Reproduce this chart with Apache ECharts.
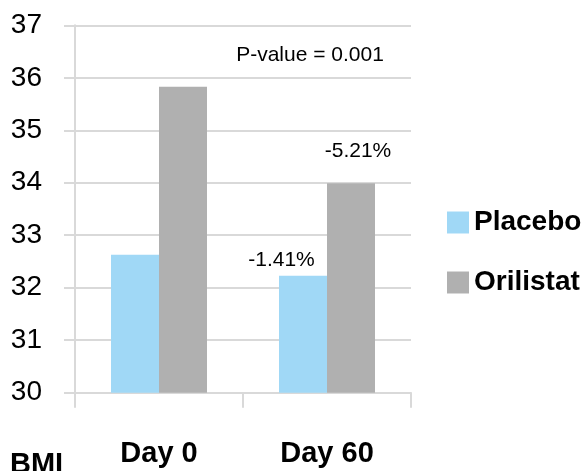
<!DOCTYPE html>
<html>
<head>
<meta charset="utf-8">
<script src="https://cdn.jsdelivr.net/npm/echarts@6/dist/echarts.min.js"></script>
<style>
  html, body { margin: 0; padding: 0; background: #fff; }
  #myChart { width: 585px; height: 471px; }
</style>
</head>
<body>
<div id="myChart"></div>
<script>
const categories = ['Day 0', 'Day 60'];
const placebo = [32.63, 32.23];
const orilistat = [35.83, 33.99];
const placeboChange = ['', '-1.41%'];
const orilistatChange = ['', '-5.21%'];
const yTicks = [30, 31, 32, 33, 34, 35, 36, 37];
const pValueText = 'P-value = 0.001';
const yTitle = 'BMI';

const font = '"Liberation Sans", Arial, sans-serif';
const gridColor = '#d9d9d9';

let chartDom = document.getElementById('myChart');
let myChart = echarts.init(chartDom, null, { renderer: 'canvas' });

let option = {
    animation: false,
    backgroundColor: '#fff',
    color: ['#a0d8f6', '#b0b0b0'],
    grid: { left: 75, right: 174, top: 25.3, bottom: 78.3, containLabel: false },
    legend: {
        orient: 'vertical',
        left: 442,
        top: 203,
        itemWidth: 22,
        itemHeight: 22,
        itemGap: 31,
        icon: 'rect',
        textStyle: { fontFamily: font, fontSize: 28, fontWeight: 'bold', color: '#000', lineHeight: 29 },
        data: ['Placebo', 'Orilistat']
    },
    xAxis: {
        type: 'category',
        data: categories,
        axisLine: { lineStyle: { color: gridColor, width: 2 } },
        axisTick: { show: true, length: 15, lineStyle: { color: gridColor, width: 2 } },
        axisLabel: { margin: 47, fontFamily: font, fontSize: 29, fontWeight: 'bold', color: '#000' }
    },
    yAxis: {
        type: 'value',
        min: yTicks[0],
        max: yTicks[yTicks.length - 1],
        interval: 1,
        axisLine: { show: true, lineStyle: { color: gridColor, width: 2 } },
        axisTick: { show: true, length: 11, lineStyle: { color: gridColor, width: 2 } },
        splitLine: { lineStyle: { color: gridColor, width: 2 } },
        axisLabel: { margin: 33, fontFamily: font, fontSize: 28, color: '#000' }
    },
    series: [
        {
            name: 'Placebo',
            type: 'bar',
            data: placebo,
            barWidth: 48,
            barGap: '0%',
            label: {
                show: true,
                position: 'top',
                offset: [-21.5, 0],
                fontFamily: font,
                fontSize: 21,
                color: '#000',
                formatter: p => placeboChange[p.dataIndex]
            }
        },
        {
            name: 'Orilistat',
            type: 'bar',
            data: orilistat,
            barWidth: 48,
            barGap: '0%',
            label: {
                show: true,
                position: 'top',
                offset: [7, -17],
                fontFamily: font,
                fontSize: 21,
                color: '#000',
                formatter: p => orilistatChange[p.dataIndex]
            }
        }
    ],
    graphic: [
        {
            type: 'text',
            x: 310, y: 55,
            style: { text: pValueText, fontFamily: font, fontSize: 21, fill: '#000', align: 'center', verticalAlign: 'middle' }
        },
        {
            type: 'text',
            x: 10, y: 465,
            style: { text: yTitle, fontFamily: font, fontSize: 29, fontWeight: 'bold', fill: '#000', align: 'left', verticalAlign: 'middle' }
        }
    ]
};

option && myChart.setOption(option);
</script>
</body>
</html>
